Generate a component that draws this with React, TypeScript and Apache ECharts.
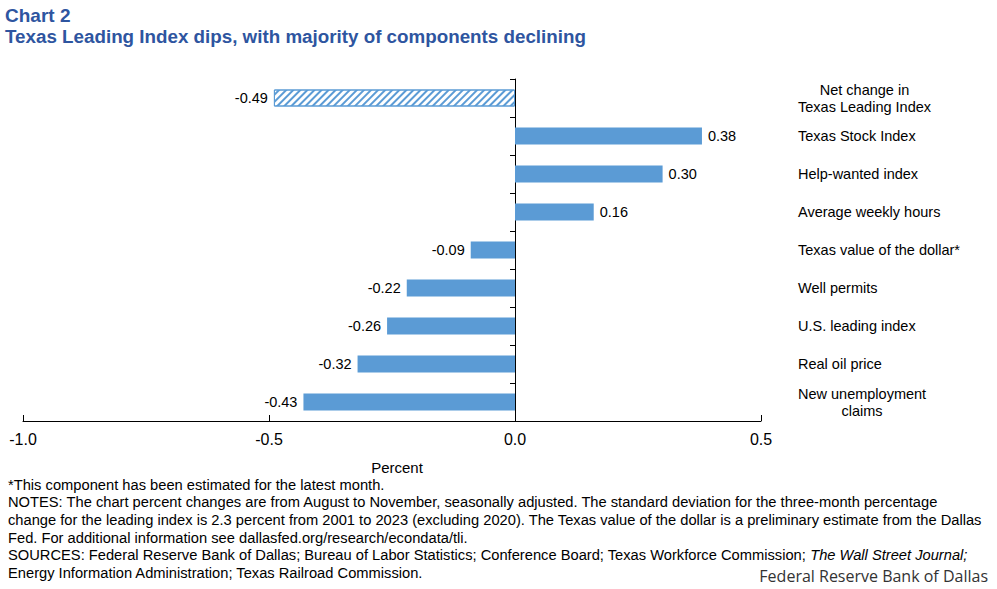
import { useEffect, useRef } from "react";
import * as echarts from "echarts";

// categories top to bottom
const categories = [
  "Net change in\nTexas Leading Index",
  "Texas Stock Index",
  "Help-wanted index",
  "Average weekly hours",
  "Texas value of the dollar*",
  "Well permits",
  "U.S. leading index",
  "Real oil price",
  "New unemployment\nclaims",
];
const values = [-0.49, 0.38, 0.3, 0.16, -0.09, -0.22, -0.26, -0.32, -0.43];
const xTicks = [-1.0, -0.5, 0.0, 0.5];

const footnotes = [
  "*This component has been estimated for the latest month.",
  "NOTES: The chart percent changes are from August to November, seasonally adjusted. The standard deviation for the three-month percentage",
  "change for the leading index is 2.3 percent from 2001 to 2023 (excluding 2020). The Texas value of the dollar is a preliminary estimate from the Dallas",
  "Fed. For additional information see dallasfed.org/research/econdata/tli.",
  "SOURCES: Federal Reserve Bank of Dallas; Bureau of Labor Statistics; Conference Board; Texas Workforce Commission; {i|The Wall Street Journal;}",
  "Energy Information Administration; Texas Railroad Commission.",
];

const BLUE = "#5b9bd5";
const TITLE = "#2e55a0";
const FONT = "'Liberation Sans', Arial, sans-serif";

export default function App() {
  const ref = useRef<HTMLDivElement>(null);

  useEffect(() => {
    document.body.style.margin = "0";
    if (!ref.current) return;
    const chart = echarts.init(ref.current, null, { renderer: "svg" });

    const barData = values.map((v, i) => {
      const item: any = {
        value: v,
        label: { position: v < 0 ? "left" : "right" },
      };
      if (i === 0) {
        // net change bar: hatched
        item.itemStyle = {
          color: "#ffffff",
          borderColor: BLUE,
          borderWidth: 1,
          decal: {
            symbol: "rect",
            symbolSize: 1,
            color: BLUE,
            dashArrayX: [1, 0],
            dashArrayY: [2, 2.2],
            rotation: -Math.PI / 4,
          },
        };
      }
      return item;
    });

    chart.setOption({
      animation: false,
      backgroundColor: "#ffffff",
      textStyle: { fontFamily: FONT },
      title: [
        {
          text: "Chart 2",
          left: 5,
          top: 6,
          padding: 0,
          textStyle: { color: TITLE, fontSize: 19, fontWeight: "bold", fontFamily: FONT },
        },
        {
          text: "Texas Leading Index dips, with majority of components declining",
          left: 5,
          top: 27,
          padding: 0,
          textStyle: { color: TITLE, fontSize: 18.8, fontWeight: "bold", fontFamily: FONT },
        },
      ],
      grid: { left: 23, right: 236, top: 79, bottom: 168, containLabel: false },
      xAxis: {
        type: "value",
        min: xTicks[0],
        max: xTicks[xTicks.length - 1],
        interval: 0.5,
        axisLine: { show: true, lineStyle: { color: "#000", width: 1 } },
        axisTick: { show: true, inside: true, length: 6, lineStyle: { color: "#000" } },
        axisLabel: {
          color: "#000",
          fontSize: 16,
          margin: 10,
          fontFamily: FONT,
          formatter: (v: number) => v.toFixed(1),
        },
        splitLine: { show: false },
        name: "Percent",
        nameLocation: "middle",
        nameGap: 39,
        nameTextStyle: { color: "#000", fontSize: 15, fontFamily: FONT, padding: [0, 0, 0, 10] },
      },
      yAxis: [
        {
          type: "category",
          data: categories,
          inverse: true,
          axisLine: { show: true, onZero: true, lineStyle: { color: "#000", width: 1 } },
          axisTick: { show: true, length: 5, lineStyle: { color: "#000" } },
          axisLabel: { show: false },
        },
        {
          type: "category",
          data: categories,
          inverse: true,
          position: "right",
          axisLine: { show: false },
          axisTick: { show: false },
          axisLabel: {
            margin: 37,
            align: "left",
            color: "#000",
            fontSize: 14.5,
            fontFamily: FONT,
            lineHeight: 17,
            formatter: (s: string) =>
              s.includes("\n")
                ? s.split("\n").map((l) => `{c|${l}}`).join("\n")
                : s,
            rich: {
              c: { align: "center", fontSize: 14.5, fontFamily: FONT, color: "#000", lineHeight: 17 },
            },
          },
        },
      ],
      series: [
        {
          type: "bar",
          data: barData,
          barWidth: 17,
          xAxisIndex: 0,
          yAxisIndex: 0,
          itemStyle: { color: BLUE },
          label: {
            show: true,
            distance: 6,
            color: "#000",
            fontSize: 14.5,
            fontFamily: FONT,
            formatter: (p: any) => p.value.toFixed(2),
          },
        },
      ],
      graphic: [
        {
          type: "text",
          left: 8,
          top: 476,
          style: {
            text: footnotes.join("\n"),
            fontSize: 14.7,
            fontFamily: FONT,
            lineHeight: 17.6,
            fill: "#000",
            rich: {
              i: { fontStyle: "italic", fontSize: 14.7, fontFamily: FONT, fill: "#000", lineHeight: 17.6 },
            },
          },
        },
        {
          type: "text",
          right: 9,
          top: 568,
          style: {
            text: "Federal Reserve Bank of Dallas",
            fontSize: 16,
            fontFamily: "'Open Sans', sans-serif",
            fill: "#333",
          },
        },
      ],
    });

    return () => chart.dispose();
  }, []);

  return <div ref={ref} style={{ width: 997, height: 589 }} />;
}
